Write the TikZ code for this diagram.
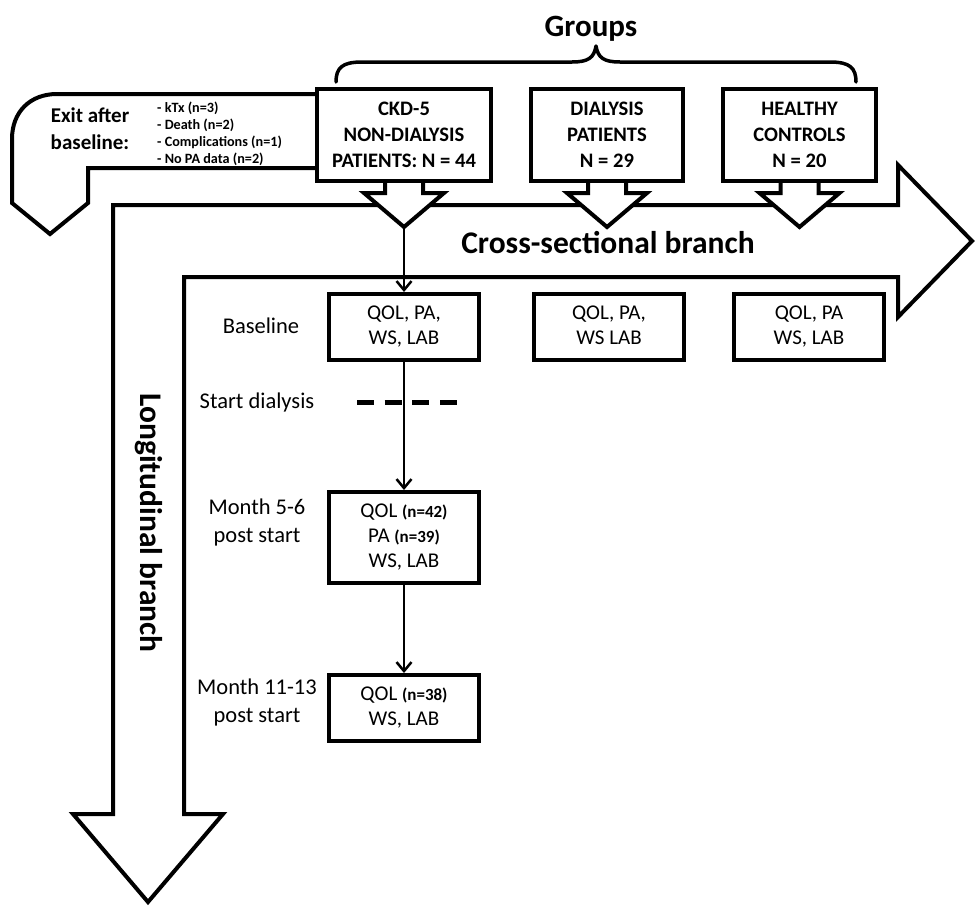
\documentclass[tikz,border=0pt]{standalone}
\usepackage{fontspec}
\setmainfont{Carlito}
\usetikzlibrary{arrows.meta}
\newcommand\nsmfont{\fontsize{17}{25}\selectfont\bfseries}
\begin{document}
\begin{tikzpicture}[x=1pt,y=-1pt,
  outl/.style={draw=black,line width=4pt,fill=white,line join=miter},
  gbox/.style={draw,line width=4pt,fill=white,minimum width=#1,minimum height=92pt,inner sep=0pt,align=center,font=\fontsize{20.6}{26}\selectfont\bfseries},
  rbox/.style={draw,line width=4pt,fill=white,minimum width=150pt,inner sep=0pt,align=center,font=\fontsize{21}{25}\selectfont},
  lab/.style={inner sep=0pt,align=center,font=\fontsize{22.5}{28}\selectfont},
  flow/.style={line width=2.5pt,-{Straight Barb[length=9pt,width=15pt]}},
  big/.style={inner sep=0pt,font=\fontsize{31.5}{36}\selectfont\bfseries}
]
\useasboundingbox (0,0) rectangle (976,908);

% L-shaped double arrow (cross-sectional + longitudinal)
\draw[outl] (113,205) -- (898,205) -- (898,165) -- (972,241) -- (898,317) -- (898,277)
  -- (184,277) -- (184,814) -- (223,814) -- (148,902) -- (73,814) -- (113,814) -- cycle;

% exit arrow
\draw[outl] (317,94) -- (57,94) .. controls (30,94) and (12,112) .. (12,139) -- (12,203)
  -- (50,234) -- (88,203) -- (88,168) -- (317,168);

% block arrows below the group boxes
\foreach \cx in {404,607,799.5}{
  \draw[outl] (\cx-19,181) -- (\cx-19,193) -- (\cx-40,193) -- (\cx,227) -- (\cx+40,193)
    -- (\cx+19,193) -- (\cx+19,181);
}
\coordinate (ckdtip) at (404,227);

% group boxes
\node[gbox=174pt] (ckd) at (404,135) {CKD-5\\NON-DIALYSIS\\PATIENTS: N = 44};
\node[gbox=152pt] (dia) at (607,135) {DIALYSIS\\PATIENTS\\N = 29};
\node[gbox=153pt] (hea) at (799.5,135) {HEALTHY\\CONTROLS\\N = 20};

% brace and title
\draw[line width=3.5pt,line cap=round,line join=round] (336,82) .. controls (336,68) and (342,62) .. (362,62)
  -- (572,62) .. controls (588,62) and (594,58) .. (596,46)
  .. controls (598,58) and (604,62) .. (620,62) -- (830,62)
  .. controls (850,62) and (856,68) .. (856,82);
\node[inner sep=0pt,anchor=base,font=\fontsize{31}{36}\selectfont\bfseries] (groups) at (591,36) {Groups};

% exit texts
\node[inner sep=0pt,align=center,font=\fontsize{21}{27}\selectfont\bfseries] (exit) at (90,128.5) {Exit after\\baseline:};
\node[inner sep=0pt,align=left,anchor=west,font=\fontsize{14.2}{17}\selectfont\bfseries] (reasons) at (157,133.5)
  {- kTx (n=3)\\- Death (n=2)\\- Complications (n=1)\\- No PA data (n=2)};

% branch labels
\node[big,anchor=base] (cross) at (608,253) {Cross-sectional branch};
\node[big,rotate=-90] (longi) at (149,523) {Longitudinal branch};

% result boxes
\node[rbox,minimum height=66pt] (base) at (404,327) {QOL, PA,\\WS, LAB};
\node[rbox,minimum height=66pt] (dres) at (609,327) {QOL, PA,\\WS LAB\vphantom{,}};
\node[rbox,minimum height=66pt] (hres) at (809,327) {QOL, PA\\WS, LAB};
\node[rbox,minimum height=91pt] (m56) at (404,537.5) {QOL {\nsmfont(n=42)}\\PA {\nsmfont(n=39)}\\WS, LAB};
\node[rbox,minimum height=66pt] (m1113) at (404,708) {QOL {\nsmfont(n=38)}\\WS, LAB};

% time labels
\node[lab] (lbase) at (261,326) {Baseline};
\node[lab] (lstart) at (257,402) {Start dialysis};
\node[lab] (l56) at (257,522) {Month 5-6\\post start};
\node[lab] (l1113) at (257,702) {Month 11-13\\post start};

% start dialysis dashes
\coordinate (d1) at (357,402);
\coordinate (d2) at (457,402);
\draw[line width=5pt,dash pattern=on 17pt off 10.7pt] (d1) -- (d2);

% flow connectors
\draw[flow] (ckdtip) -- (base.north);
\draw[flow] (base.south) -- (m56.north);
\draw[flow] (m56.south) -- (m1113.north);
\end{tikzpicture}
\end{document}
